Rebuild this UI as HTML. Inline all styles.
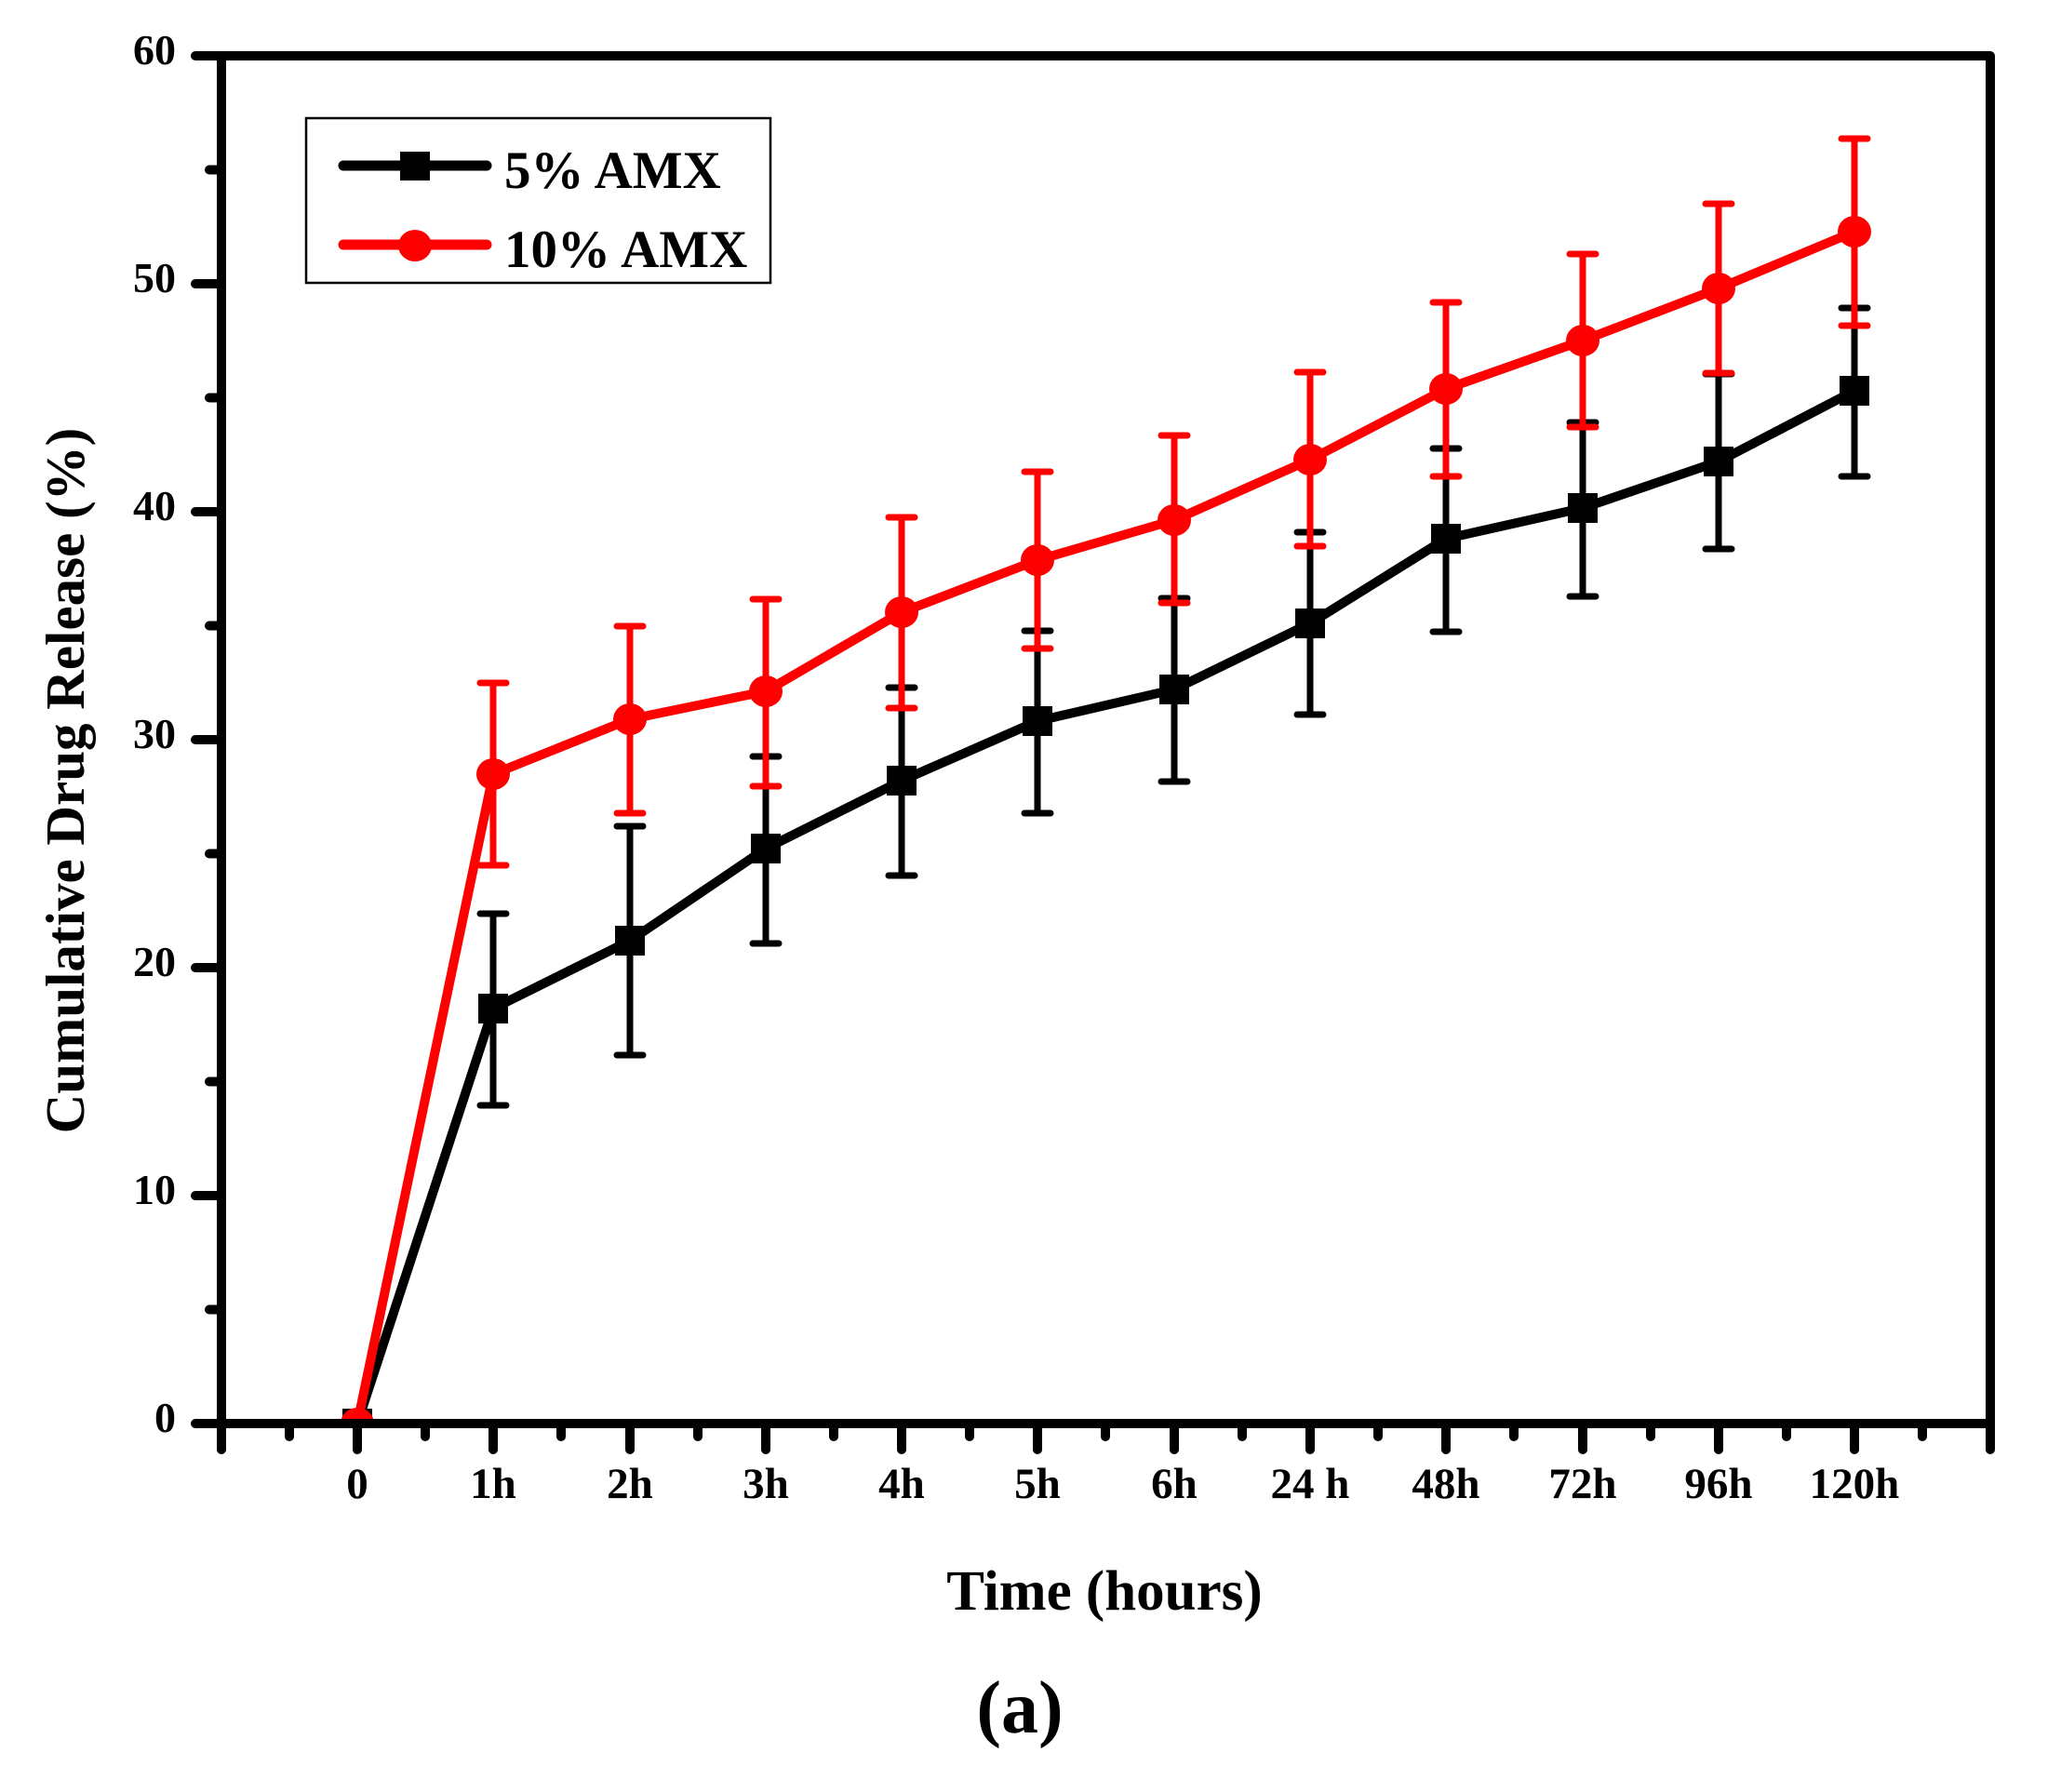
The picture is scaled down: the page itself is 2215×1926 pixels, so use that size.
<!DOCTYPE html>
<html><head><meta charset="utf-8"><style>
html,body{margin:0;padding:0;background:#fff;}
svg{display:block;}
text{font-family:"Liberation Serif",serif;font-weight:bold;fill:#000;}
</style></head><body>
<svg width="2215" height="1926" viewBox="0 0 2215 1926" xmlns="http://www.w3.org/2000/svg">
<rect width="2215" height="1926" fill="#fff"/>
<defs><clipPath id="c"><rect x="238" y="60" width="1902" height="1470"/></clipPath></defs>

<g clip-path="url(#c)">
<!-- black series -->
<polyline fill="none" stroke="#000" stroke-width="10" stroke-linejoin="round" points="384,1530 530,1084 677,1011 823,912 969,839 1115,775 1262,741 1408,670 1554,579 1701,546 1847,496 1993,420"/>
<g stroke="#000" stroke-width="7" stroke-linecap="round" fill="none">
<path d="M530,982V1188M516,982H544M516,1188H544"/>
<path d="M677,888V1134M663,888H691M663,1134H691"/>
<path d="M823,813V1014M809,813H837M809,1014H837"/>
<path d="M969,739V941M955,739H983M955,941H983"/>
<path d="M1115,678V874M1101,678H1129M1101,874H1129"/>
<path d="M1262,643V840M1248,643H1276M1248,840H1276"/>
<path d="M1408,572V768M1394,572H1422M1394,768H1422"/>
<path d="M1554,482V679M1540,482H1568M1540,679H1568"/>
<path d="M1701,454V641M1687,454H1715M1687,641H1715"/>
<path d="M1847,402V590M1833,402H1861M1833,590H1861"/>
<path d="M1993,331V512M1979,331H2007M1979,512H2007"/>
</g>
<g fill="#000">
<rect x="368" y="1514" width="32" height="32"/>
<rect x="514" y="1068" width="32" height="32"/>
<rect x="661" y="995" width="32" height="32"/>
<rect x="807" y="896" width="32" height="32"/>
<rect x="953" y="823" width="32" height="32"/>
<rect x="1099" y="759" width="32" height="32"/>
<rect x="1246" y="725" width="32" height="32"/>
<rect x="1392" y="654" width="32" height="32"/>
<rect x="1538" y="563" width="32" height="32"/>
<rect x="1685" y="530" width="32" height="32"/>
<rect x="1831" y="480" width="32" height="32"/>
<rect x="1977" y="404" width="32" height="32"/>
</g>

<!-- red series -->
<polyline fill="none" stroke="#ff0000" stroke-width="10" stroke-linejoin="round" points="384,1530 530,832 677,773 823,743 969,658 1115,602 1262,559 1408,494 1554,418 1701,366 1847,310 1993,249"/>
<g stroke="#ff0000" stroke-width="7" stroke-linecap="round" fill="none">
<path d="M530,734V930M516,734H544M516,930H544"/>
<path d="M677,673V874M663,673H691M663,874H691"/>
<path d="M823,644V845M809,644H837M809,845H837"/>
<path d="M969,556V761M955,556H983M955,761H983"/>
<path d="M1115,507V697M1101,507H1129M1101,697H1129"/>
<path d="M1262,468V648M1248,468H1276M1248,648H1276"/>
<path d="M1408,400V587M1394,400H1422M1394,587H1422"/>
<path d="M1554,325V512M1540,325H1568M1540,512H1568"/>
<path d="M1701,273V459M1687,273H1715M1687,459H1715"/>
<path d="M1847,219V401M1833,219H1861M1833,401H1861"/>
<path d="M1993,149V350M1979,149H2007M1979,350H2007"/>
</g>
<g fill="#ff0000">
<ellipse cx="384" cy="1530" rx="18" ry="17"/>
<ellipse cx="530" cy="832" rx="18" ry="17"/>
<ellipse cx="677" cy="773" rx="18" ry="17"/>
<ellipse cx="823" cy="743" rx="18" ry="17"/>
<ellipse cx="969" cy="658" rx="18" ry="17"/>
<ellipse cx="1115" cy="602" rx="18" ry="17"/>
<ellipse cx="1262" cy="559" rx="18" ry="17"/>
<ellipse cx="1408" cy="494" rx="18" ry="17"/>
<ellipse cx="1554" cy="418" rx="18" ry="17"/>
<ellipse cx="1701" cy="366" rx="18" ry="17"/>
<ellipse cx="1847" cy="310" rx="18" ry="17"/>
<ellipse cx="1993" cy="249" rx="18" ry="17"/>
</g>
</g>

<!-- axes -->
<path d="M238,60 H2139 V1530 H238 Z" fill="none" stroke="#000" stroke-width="10" stroke-linejoin="round"/>
<g stroke="#000" stroke-width="10" stroke-linecap="round">
<!-- y major ticks -->
<path d="M210,60H238M210,305H238M210,550H238M210,795H238M210,1040H238M210,1285H238M210,1530H238"/>
<!-- y minor ticks -->
<path d="M225,182.5H238M225,427.5H238M225,672.5H238M225,917.5H238M225,1162.5H238M225,1407.5H238"/>
<!-- x major ticks -->
<path d="M238,1530V1558M384,1530V1558M530,1530V1558M677,1530V1558M823,1530V1558M969,1530V1558M1115,1530V1558M1262,1530V1558M1408,1530V1558M1554,1530V1558M1701,1530V1558M1847,1530V1558M1993,1530V1558M2139,1530V1558"/>
<!-- x minor ticks -->
<path d="M311,1530V1544M457,1530V1544M603,1530V1544M750,1530V1544M896,1530V1544M1042,1530V1544M1188,1530V1544M1335,1530V1544M1481,1530V1544M1627,1530V1544M1774,1530V1544M1920,1530V1544M2066,1530V1544"/>
</g>

<!-- y tick labels -->
<g font-size="46" text-anchor="end">
<text x="189" y="69">60</text>
<text x="189" y="314">50</text>
<text x="189" y="559">40</text>
<text x="189" y="804">30</text>
<text x="189" y="1049">20</text>
<text x="189" y="1294">10</text>
<text x="189" y="1539">0</text>
</g>
<!-- x tick labels -->
<g font-size="47" text-anchor="middle">
<text x="384" y="1610">0</text>
<text x="530" y="1610">1h</text>
<text x="677" y="1610">2h</text>
<text x="823" y="1610">3h</text>
<text x="969" y="1610">4h</text>
<text x="1115" y="1610">5h</text>
<text x="1262" y="1610">6h</text>
<text x="1408" y="1610">24 h</text>
<text x="1554" y="1610">48h</text>
<text x="1701" y="1610">72h</text>
<text x="1847" y="1610">96h</text>
<text x="1993" y="1610">120h</text>
</g>

<!-- axis titles -->
<text x="1187" y="1730" font-size="61" text-anchor="middle">Time (hours)</text>
<text transform="translate(90,839) rotate(-90)" font-size="59" text-anchor="middle">Cumulative Drug Release (%)</text>
<text x="1096" y="1862" font-size="80" text-anchor="middle">(a)</text>

<!-- legend -->
<rect x="329" y="127" width="499" height="177" fill="#fff" stroke="#000" stroke-width="2.5"/>
<line x1="369" y1="178" x2="523" y2="178" stroke="#000" stroke-width="11" stroke-linecap="round"/>
<rect x="430" y="163" width="32" height="31" fill="#000"/>
<text x="542" y="202" font-size="57">5% AMX</text>
<line x1="369" y1="263" x2="523" y2="263" stroke="#ff0000" stroke-width="11" stroke-linecap="round"/>
<ellipse cx="446" cy="264" rx="18" ry="17" fill="#ff0000"/>
<text x="542" y="287" font-size="57">10% AMX</text>
</svg>
</body></html>
